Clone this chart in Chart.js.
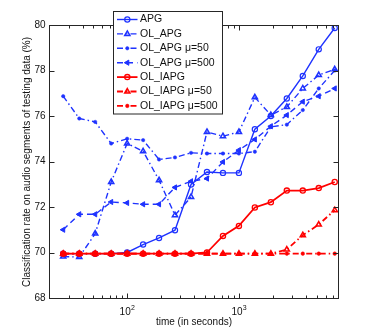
<!DOCTYPE html>
<html><head><meta charset="utf-8">
<script src="https://cdn.jsdelivr.net/npm/chart.js@4/dist/chart.umd.min.js"></script>
<style>html,body{margin:0;padding:0;background:#fff;}canvas{display:block;}</style>
</head><body>
<canvas id="c" width="374" height="335"></canvas>
<script>
const times = [26.8, 37.3, 51.8, 72.0, 100, 139, 193, 268, 373, 518, 720, 1000, 1389, 1931, 2683, 3728, 5179, 7197];
const apg      = [69.95, 69.95, 69.95, 69.95, 70.0, 70.35, 70.64, 70.98, 72.99, 73.54, 73.5, 73.5, 75.42, 76.0, 76.77, 77.76, 78.93, 79.87];
const olApg    = [69.82, 69.8, 70.83, 73.1, 74.79, 74.45, 73.18, 71.64, 72.44, 75.3, 75.11, 75.3, 76.82, 76.04, 76.4, 77.21, 77.8, 78.05];
const olApg50  = [76.87, 75.89, 75.74, 74.79, 75.0, 74.94, 74.09, 74.18, 74.38, 74.35, 74.35, 74.35, 74.43, 75.52, 75.62, 76.26, 77.21, 78.0];
const olApg500 = [71.0, 71.68, 71.68, 72.22, 72.18, 72.12, 72.12, 72.86, 73.13, 73.25, 73.98, 74.5, 74.97, 75.55, 76.04, 76.63, 76.87, 77.21];
const olIapg   = [69.95, 69.95, 69.95, 69.95, 69.95, 69.95, 69.95, 69.95, 69.95, 70.0, 70.73, 71.17, 71.98, 72.21, 72.72, 72.72, 72.83, 73.1];
const olIapg50 = [69.95, 69.95, 69.95, 69.95, 69.95, 69.95, 69.95, 69.95, 69.95, 69.95, 69.95, 69.95, 69.95, 69.95, 70.13, 70.76, 71.23, 71.86];
const olIapg500= [69.95, 69.95, 69.95, 69.95, 69.95, 69.95, 69.95, 69.95, 69.95, 69.95, 69.95, 69.95, 69.95, 69.95, 69.95, 69.95, 69.95, 69.95];
const seriesNames = ['APG', 'OL_APG', 'OL_APG \u03bc=50', 'OL_APG \u03bc=500', 'OL_IAPG', 'OL_IAPG \u03bc=50', 'OL_IAPG \u03bc=500'];
const yTicks = [68, 70, 72, 74, 76, 78, 80];
const xMajorTicks = [100, 1000];
const xMajorLabels = ['2', '3'];
const xMinorTicks = [20, 30, 40, 50, 60, 70, 80, 90, 200, 300, 400, 500, 600, 700, 800, 900, 2000, 3000, 4000, 5000, 6000, 7000];
const xTitle = 'time (in seconds)';
const yTitle = 'Classification rate on audio segments of testing data (%)';

const BLUE = 'rgb(30,50,255)';
const RED = 'rgb(255,0,0)';
const FONT = '"Liberation Sans", Arial, Helvetica, sans-serif';
const DASHDOT = [6, 3, 1.5, 3];
const DASHED = [6, 4];

function pts(arr){ return arr.map((v,i)=>({x: times[i], y: v})); }

const styles = [
  {data: apg, color: BLUE, dash: [], lw: 1.4, ps: 'circle', r: 2.6, rot: 0, fill: false, bw: 1.2},
  {data: olApg, color: BLUE, dash: DASHDOT, lw: 1.4, ps: 'triangle', r: 3.0, rot: 0, fill: false, bw: 1.5},
  {data: olApg50, color: BLUE, dash: DASHDOT, lw: 1.4, ps: 'circle', r: 1.7, rot: 0, fill: true, bw: 0.5},
  {data: olApg500, color: BLUE, dash: DASHED, lw: 1.4, ps: 'triangle', r: 3.0, rot: -90, fill: true, bw: 1},
  {data: olIapg, color: RED, dash: [], lw: 1.8, ps: 'circle', r: 2.6, rot: 0, fill: false, bw: 1.3},
  {data: olIapg50, color: RED, dash: DASHDOT, lw: 1.8, ps: 'triangle', r: 3.0, rot: 0, fill: false, bw: 1.5},
  {data: olIapg500, color: RED, dash: DASHDOT, lw: 1.8, ps: 'circle', r: 1.8, rot: 0, fill: true, bw: 0.5}
];

const datasets = styles.map((s, i) => ({
  label: seriesNames[i],
  data: pts(s.data),
  borderColor: s.color,
  backgroundColor: s.fill ? s.color : 'rgba(0,0,0,0)',
  borderWidth: s.lw,
  borderDash: s.dash,
  pointStyle: s.ps,
  pointRadius: s.r,
  pointRotation: s.rot,
  pointBorderWidth: s.bw,
  pointBorderColor: s.color,
  pointBackgroundColor: s.fill ? s.color : 'rgba(0,0,0,0)',
  tension: 0,
  fill: false,
  order: 10 - i
}));

const axesPlugin = {
  id: 'matlabAxes',
  afterDatasetsDraw(chart) {
    const ctx = chart.ctx;
    const xs = chart.scales.x, ys = chart.scales.y;
    const L = Math.round(xs.left) + 0.5, R = Math.round(xs.right) + 0.5;
    const T = Math.round(ys.top) + 0.5, B = Math.round(ys.bottom) + 0.5;
    ctx.save();
    ctx.strokeStyle = '#262626';
    ctx.lineWidth = 1;
    ctx.setLineDash([]);
    ctx.strokeRect(L, T, R - L, B - T);
    ctx.beginPath();
    yTicks.forEach(v => {
      const y = Math.round(ys.getPixelForValue(v)) + 0.5;
      ctx.moveTo(L, y); ctx.lineTo(L + 5, y);
      ctx.moveTo(R, y); ctx.lineTo(R - 5, y);
    });
    xMajorTicks.forEach(v => {
      const x = Math.round(xs.getPixelForValue(v)) + 0.5;
      ctx.moveTo(x, B); ctx.lineTo(x, B - 5);
      ctx.moveTo(x, T); ctx.lineTo(x, T + 5);
    });
    xMinorTicks.forEach(v => {
      const x = Math.round(xs.getPixelForValue(v)) + 0.5;
      ctx.moveTo(x, B); ctx.lineTo(x, B - 3);
      ctx.moveTo(x, T); ctx.lineTo(x, T + 3);
    });
    ctx.stroke();
    ctx.fillStyle = '#111';
    ctx.font = '10px ' + FONT;
    ctx.textAlign = 'right';
    ctx.textBaseline = 'middle';
    yTicks.forEach(v => {
      ctx.fillText(String(v), L - 4, ys.getPixelForValue(v));
    });
    xMajorTicks.forEach((v, i) => {
      const x = xs.getPixelForValue(v);
      ctx.font = '10px ' + FONT;
      const w1 = ctx.measureText('10').width;
      ctx.font = '7px ' + FONT;
      const w2 = ctx.measureText(xMajorLabels[i]).width;
      const x0 = x - (w1 + w2) / 2;
      ctx.textAlign = 'left';
      ctx.textBaseline = 'alphabetic';
      ctx.font = '10px ' + FONT;
      ctx.fillText('10', x0, B + 16);
      ctx.font = '7px ' + FONT;
      ctx.fillText(xMajorLabels[i], x0 + w1 + 0.3, B + 11);
    });
    ctx.font = '10px ' + FONT;
    ctx.textAlign = 'center';
    ctx.textBaseline = 'alphabetic';
    ctx.fillText(xTitle, (L + R) / 2, B + 26);
    ctx.save();
    ctx.translate(27, (T + B) / 2);
    ctx.rotate(-Math.PI / 2);
    ctx.textBaseline = 'middle';
    ctx.fillText(yTitle, 0, 0);
    ctx.restore();
    ctx.restore();
  },
  afterDraw(chart) {
    const ctx = chart.ctx;
    const bx = 113.5, by = 11.5, bw = 109, bh = 102.5;
    ctx.save();
    ctx.fillStyle = '#fff';
    ctx.fillRect(bx, by, bw, bh);
    ctx.strokeStyle = '#262626';
    ctx.lineWidth = 1;
    ctx.setLineDash([]);
    ctx.strokeRect(bx, by, bw, bh);
    chart.data.datasets.forEach((ds, i) => {
      const y = 19.5 + i * 14.4;
      ctx.strokeStyle = ds.borderColor;
      ctx.lineWidth = ds.borderWidth;
      ctx.setLineDash(ds.borderDash || []);
      ctx.beginPath();
      ctx.moveTo(117, y); ctx.lineTo(137.5, y);
      ctx.stroke();
      ctx.setLineDash([]);
      ctx.fillStyle = ds.pointBackgroundColor;
      ctx.strokeStyle = ds.pointBorderColor;
      ctx.lineWidth = ds.pointBorderWidth;
      Chart.helpers.drawPoint(ctx, {pointStyle: ds.pointStyle, radius: ds.pointRadius, rotation: ds.pointRotation, borderWidth: ds.pointBorderWidth}, 127.3, y);
      ctx.fillStyle = '#111';
      ctx.font = '10.5px ' + FONT;
      ctx.textAlign = 'left';
      ctx.textBaseline = 'middle';
      ctx.fillText(ds.label, 140, y);
    });
    ctx.restore();
  }
};

new Chart(document.getElementById('c'), {
  type: 'line',
  data: { datasets },
  options: {
    responsive: false,
    animation: false,
    devicePixelRatio: 1,
    layout: { padding: { left: 49, right: 36, top: 25, bottom: 37 } },
    plugins: { legend: { display: false }, tooltip: { enabled: false } },
    scales: {
      x: { type: 'logarithmic', min: 20, max: 7700, display: false },
      y: { type: 'linear', min: 68, max: 80, display: false }
    }
  },
  plugins: [axesPlugin]
});
</script>
</body></html>
